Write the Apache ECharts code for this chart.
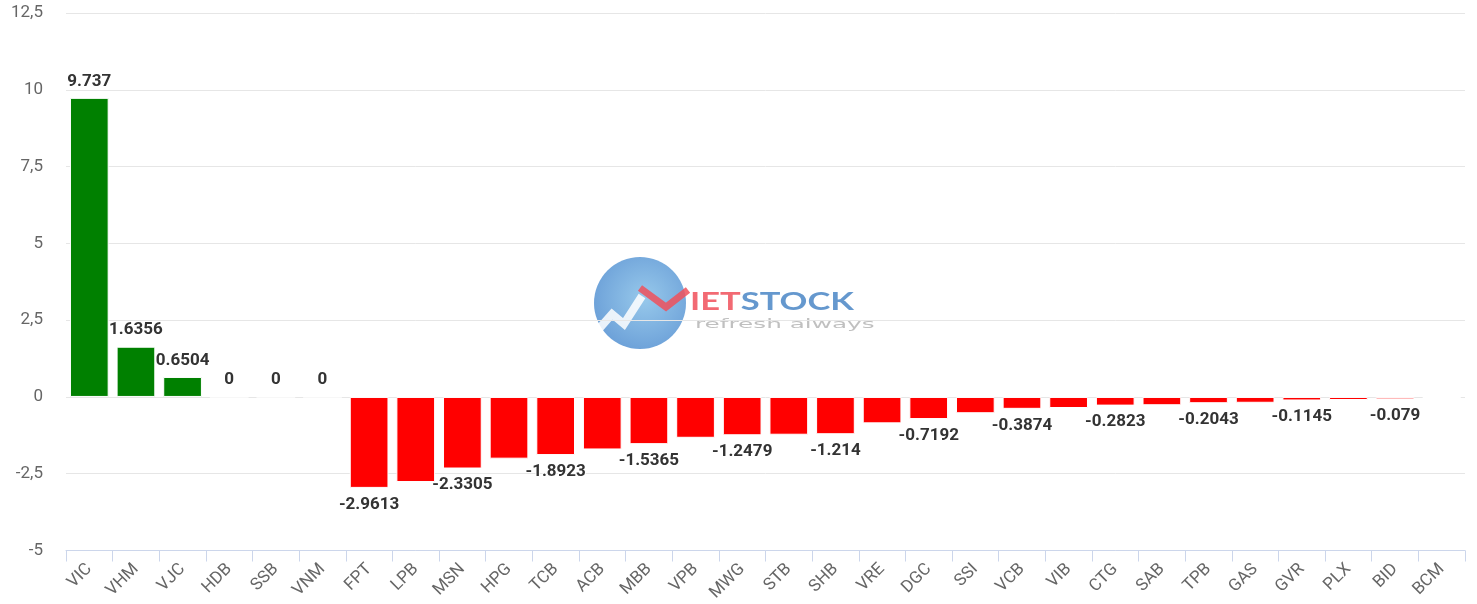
<!DOCTYPE html>
<html>
<head>
<meta charset="utf-8">
<script src="https://cdn.jsdelivr.net/npm/echarts@6/dist/echarts.min.js"></script>
<style>
html,body{margin:0;padding:0;background:#fff;}
#chart{width:1477px;height:604px;}
</style>
</head>
<body>
<div id="chart"></div>
<script>
const categories = ['VIC','VHM','VJC','HDB','SSB','VNM','FPT','LPB','MSN','HPG','TCB','ACB','MBB','VPB','MWG','STB','SHB','VRE','DGC','SSI','VCB','VIB','CTG','SAB','TPB','GAS','GVR','PLX','BID','BCM'];
const values = [9.737, 1.6356, 0.6504, 0, 0, 0, -2.9613, -2.77, -2.3305, -2.01, -1.8923, -1.71, -1.5365, -1.33, -1.2479, -1.23, -1.214, -0.86, -0.7192, -0.53, -0.3874, -0.36, -0.2823, -0.27, -0.2043, -0.19, -0.1145, -0.10, -0.079, -0.03];
// which value labels the original showed (the rest were hidden as overlapping)
const labelShown = [1,1,1,1,1,1,1,0,1,0,1,0,1,0,1,0,1,0,1,0,1,0,1,0,1,0,1,0,1,0];
const yTicks = { min: -5, max: 12.5, interval: 2.5 };

const chart = echarts.init(document.getElementById('chart'), null, { renderer: 'canvas' });

const seriesData = values.map((v, i) => ({
  value: v,
  itemStyle: { color: v >= 0 ? '#008000' : '#ff0000' },
  label: { show: !!labelShown[i], position: v >= 0 ? 'top' : 'bottom' }
}));

const option = {
  animation: false,
  backgroundColor: '#ffffff',
  grid: { left: 66, right: 12, top: 13, bottom: 52, containLabel: false },
  xAxis: {
    type: 'category',
    data: categories,
    axisLine: { onZero: false, lineStyle: { color: '#ccd6eb', width: 1 } },
    axisTick: { show: true, length: 11, lineStyle: { color: '#ccd6eb' } },
    axisLabel: { rotate: 45, margin: 16, color: '#666666', fontSize: 17, fontFamily: 'Roboto', interval: 0 },
    splitLine: { show: false }
  },
  yAxis: {
    type: 'value',
    min: yTicks.min, max: yTicks.max, interval: yTicks.interval,
    axisLine: { show: false },
    axisTick: { show: false },
    axisLabel: { color: '#666666', fontSize: 17, fontFamily: 'Roboto', margin: 23,
      formatter: v => String(v).replace('.', ',') },
    splitLine: { lineStyle: { color: '#e6e6e6', width: 1 } }
  },
  graphic: [
    {
      type: 'circle', z: 0, silent: true,
      shape: { cx: 640, cy: 303, r: 46 },
      style: {
        fill: new echarts.graphic.RadialGradient(0.55, 0.45, 0.7, [
          { offset: 0, color: '#7dbbe6' },
          { offset: 1, color: '#3d7fca' }
        ]),
        opacity: 0.8
      }
    },
    {
      type: 'polyline', z: 0, silent: true,
      shape: { points: [[598, 330], [612, 314], [624, 324], [642, 296]] },
      style: { stroke: '#ffffff', lineWidth: 8, fill: null, opacity: 0.85 }
    },
    {
      type: 'polyline', z: 0, silent: true,
      shape: { points: [[640, 288], [666, 307], [688, 290]] },
      style: { stroke: '#f0505a', lineWidth: 7, fill: null, opacity: 0.85 }
    },
    {
      type: 'text', z: 0, silent: true,
      x: 690, y: 302, scaleX: 1.38, scaleY: 1,
      style: {
        text: '{r|IET}{b|STOCK}',
        verticalAlign: 'middle',
        rich: {
          r: { fontSize: 25, fontWeight: 'bold', fontFamily: 'Lato', fill: '#f0505a' },
          b: { fontSize: 25, fontWeight: 'bold', fontFamily: 'Lato', fill: '#4a86c5' }
        },
        opacity: 0.85
      }
    },
    {
      type: 'text', z: 0, silent: true,
      x: 695, y: 325, scaleX: 1.9, scaleY: 1,
      style: {
        text: 'refresh always',
        fontSize: 13, fontFamily: 'DejaVu Sans', fill: '#b0b0b0',
        verticalAlign: 'middle', opacity: 0.8
      }
    }
  ],
  series: [{
    type: 'bar',
    data: seriesData,
    barCategoryGap: '17%',
    z: 2,
    itemStyle: { borderColor: '#ffffff', borderWidth: 1 },
    label: {
      distance: 8,
      fontSize: 17,
      fontWeight: 'bold',
      fontFamily: 'Roboto',
      color: '#333333',
      textBorderColor: '#ffffff',
      textBorderWidth: 2,
      formatter: p => String(p.value)
    }
  }]
};
chart.setOption(option);
</script>
</body>
</html>
